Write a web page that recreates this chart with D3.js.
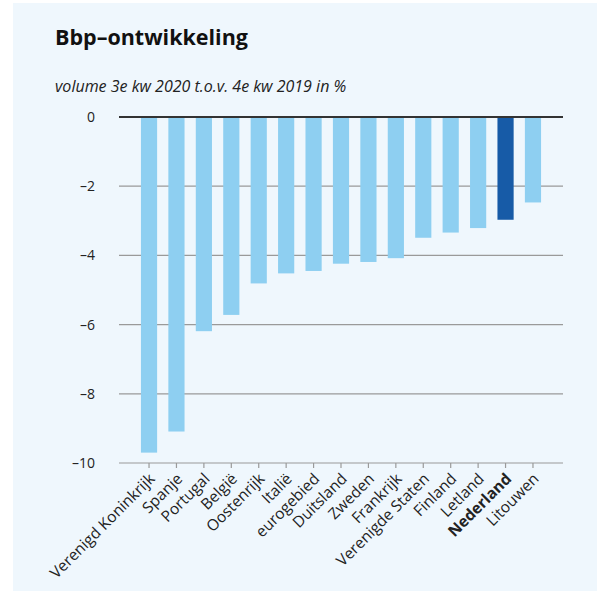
<!DOCTYPE html>
<html>
<head>
<meta charset="utf-8">
<script src="https://cdn.jsdelivr.net/npm/d3@7"></script>
<style>
  html, body { margin: 0; padding: 0; background: #fff; }
  svg { display: block; font-family: "Open Sans", "Noto Sans", sans-serif; }
</style>
</head>
<body>
<svg id="chart" width="597" height="591"></svg>
<script>
// ---- data ----
var countries = [
  "Verenigd Koninkrijk", "Spanje", "Portugal", "België", "Oostenrijk",
  "Italië", "eurogebied", "Duitsland", "Zweden", "Frankrijk",
  "Verenigde Staten", "Finland", "Letland", "Nederland", "Litouwen"
];
var growth = [
  -9.70, -9.09, -6.19, -5.72, -4.81,
  -4.52, -4.45, -4.24, -4.19, -4.08,
  -3.49, -3.34, -3.21, -2.97, -2.47
];
var highlight = "Nederland";
var yTicks = [0, -2, -4, -6, -8, -10];

var rows = countries.map(function (c, i) { return { name: c, value: growth[i] }; });

var svg = d3.select("#chart");

// panel background
svg.append("rect")
  .attr("x", 13).attr("y", 3)
  .attr("width", 584).attr("height", 588)
  .attr("fill", "#eff7fd");

svg.append("text")
  .attr("x", 55).attr("y", 45)
  .attr("font-size", 21.5).attr("font-weight", 700)
  .attr("fill", "#111")
  .text("Bbp\u2013ontwikkeling");

svg.append("text")
  .attr("x", 55).attr("y", 92)
  .attr("font-size", 16).attr("font-style", "italic")
  .attr("fill", "#222")
  .text("volume 3e kw 2020 t.o.v. 4e kw 2019 in %");

var x = d3.scaleBand()
  .domain(countries)
  .range([119, 563])
  .paddingInner(0.41)
  .paddingOuter(0.8);

var y = d3.scaleLinear().domain([-10, 0]).range([463, 117]);

// gridlines + y labels
var grid = svg.append("g");
grid.selectAll("line")
  .data(yTicks.filter(function (t) { return t !== 0; }))
  .enter().append("line")
  .attr("x1", 119).attr("x2", 563)
  .attr("y1", function (d) { return y(d); })
  .attr("y2", function (d) { return y(d); })
  .attr("stroke", "#9a9a9a").attr("stroke-width", 1.2);

grid.selectAll("text")
  .data(yTicks)
  .enter().append("text")
  .attr("x", 95)
  .attr("y", function (d) { return y(d); })
  .attr("dy", "0.35em")
  .attr("text-anchor", "end")
  .attr("font-size", 14)
  .attr("fill", "#222")
  .text(function (d) { return d === 0 ? "0" : "\u2013" + Math.abs(d); });

// bars
svg.append("g").selectAll("rect")
  .data(rows)
  .enter().append("rect")
  .attr("x", function (d) { return x(d.name); })
  .attr("width", x.bandwidth())
  .attr("y", y(0))
  .attr("height", function (d) { return y(d.value) - y(0); })
  .attr("fill", function (d) { return d.name === highlight ? "#175ba7" : "#8ecff1"; });

// zero line
svg.append("line")
  .attr("x1", 119).attr("x2", 563)
  .attr("y1", y(0)).attr("y2", y(0))
  .attr("stroke", "#333").attr("stroke-width", 2);

// bottom axis with ticks at bar centres
var xAxis = svg.append("g")
  .attr("transform", "translate(0," + y(-10) + ")")
  .call(d3.axisBottom(x).tickSize(5).tickSizeOuter(0).tickFormat(""));
xAxis.select(".domain").remove();
xAxis.selectAll(".tick line").attr("stroke", "#9a9a9a").attr("stroke-width", 1.2);

svg.append("g").selectAll("text")
  .data(countries)
  .enter().append("text")
  .attr("transform", function (d) {
    return "translate(" + (x(d) + x.bandwidth() / 2 + 3) + "," + (y(-10) + 13) + ") rotate(-45)";
  })
  .attr("text-anchor", "end")
  .attr("dy", "0.35em")
  .attr("font-size", 15.5)
  .attr("font-weight", function (d) { return d === highlight ? 700 : 400; })
  .attr("fill", "#222")
  .text(function (d) { return d; });
</script>
</body>
</html>
